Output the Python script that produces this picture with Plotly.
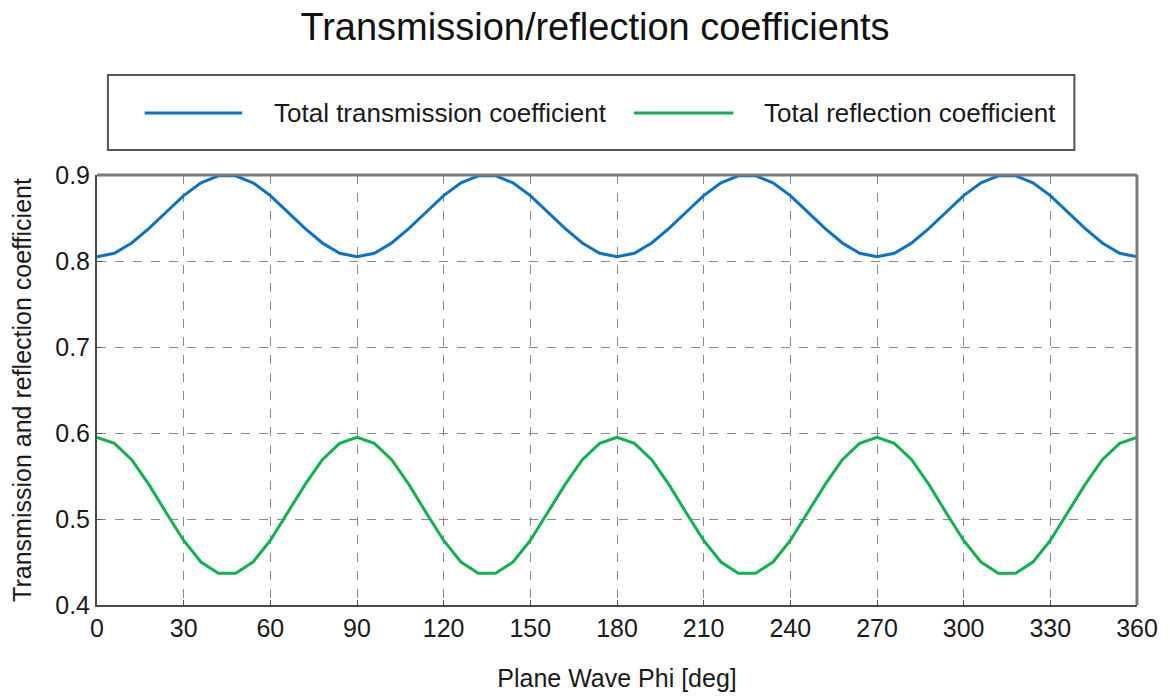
import plotly.graph_objects as go

# Plane-wave azimuth samples (deg), 6-degree step
phi = list(range(0, 361, 6))

transmission = [
    0.805, 0.809, 0.821, 0.838, 0.857, 0.876, 0.891, 0.899, 0.899, 0.891, 0.876, 0.857, 0.838, 0.821, 0.809,
    0.805, 0.809, 0.821, 0.838, 0.857, 0.876, 0.891, 0.899, 0.899, 0.891, 0.876, 0.857, 0.838, 0.821, 0.809,
    0.805, 0.809, 0.821, 0.838, 0.857, 0.876, 0.891, 0.899, 0.899, 0.891, 0.876, 0.857, 0.838, 0.821, 0.809,
    0.805, 0.809, 0.821, 0.838, 0.857, 0.876, 0.891, 0.899, 0.899, 0.891, 0.876, 0.857, 0.838, 0.821, 0.809,
    0.805,
]

reflection = [
    0.595, 0.588, 0.569, 0.540, 0.507, 0.475, 0.450, 0.437, 0.437, 0.450, 0.475, 0.507, 0.540, 0.569, 0.588,
    0.595, 0.588, 0.569, 0.540, 0.507, 0.475, 0.450, 0.437, 0.437, 0.450, 0.475, 0.507, 0.540, 0.569, 0.588,
    0.595, 0.588, 0.569, 0.540, 0.507, 0.475, 0.450, 0.437, 0.437, 0.450, 0.475, 0.507, 0.540, 0.569, 0.588,
    0.595, 0.588, 0.569, 0.540, 0.507, 0.475, 0.450, 0.437, 0.437, 0.450, 0.475, 0.507, 0.540, 0.569, 0.588,
    0.595,
]

x_ticks = list(range(0, 361, 30))
y_ticks = [0.4, 0.5, 0.6, 0.7, 0.8, 0.9]

series_names = ["Total transmission coefficient", "Total reflection coefficient"]
series_colors = ["#0b72c4", "#12b04f"]

FONT = "Liberation Sans, Arial, sans-serif"
TXT = "#1a1a1a"
W, H = 1170, 700
ML, MR, MT, MB = 97, 27, 175, 95

fig = go.Figure()
for name, ys, col in zip(series_names, [transmission, reflection], series_colors):
    fig.add_trace(go.Scatter(x=phi, y=ys, mode="lines", name=name,
                             line=dict(color=col, width=3), showlegend=False))

axis_common = dict(
    showline=True, linecolor="#4a4a4a", linewidth=2, mirror=False,
    showgrid=True, gridcolor="#8a8a8a", gridwidth=1.3, griddash="dash",
    ticks="inside", ticklen=5, tickcolor="#555555", tickwidth=1,
    tickfont=dict(family=FONT, size=25, color=TXT),
    zeroline=False,
)

fig.update_xaxes(range=[0, 360], tickvals=x_ticks,
                 title=dict(text="Plane Wave Phi [deg]", font=dict(family=FONT, size=25, color=TXT),
                            standoff=28),
                 **axis_common)
fig.update_yaxes(range=[0.4, 0.9], tickvals=y_ticks, ticktext=[f"{v:.1f}" for v in y_ticks],
                 title=dict(text="Transmission and reflection coefficient",
                            font=dict(family=FONT, size=25, color=TXT), standoff=16),
                 **axis_common)

# Pixel -> paper coordinate helpers for the legend panel and frame
def px(xp):
    return (xp - ML) / (W - ML - MR)

def py(yp):
    return (H - MB - yp) / (H - MT - MB)

shapes = [
    # lighter top/right frame edges
    dict(type="line", xref="paper", yref="paper", x0=0, x1=1, y0=1, y1=1,
         line=dict(color="#7a7a7a", width=3), layer="above"),
    dict(type="line", xref="paper", yref="paper", x0=1, x1=1, y0=0, y1=1,
         line=dict(color="#7a7a7a", width=3), layer="above"),
    dict(type="rect", xref="paper", yref="paper",
         x0=px(108), x1=px(1080), y0=py(150), y1=py(75),
         line=dict(color="#555555", width=2), fillcolor="white", layer="above"),
]
annotations = []
legend_items = [(145, 243, 273), (637, 737, 766)]
for (lx0, lx1, tx), name, col in zip(legend_items, series_names, series_colors):
    shapes.append(dict(type="line", xref="paper", yref="paper",
                       x0=px(lx0), x1=px(lx1), y0=py(113), y1=py(113),
                       line=dict(color=col, width=3), layer="above"))
    annotations.append(dict(xref="paper", yref="paper", x=px(tx), y=py(113),
                            text=name, showarrow=False, xanchor="left", yanchor="middle",
                            font=dict(family=FONT, size=26, color=TXT)))

fig.update_layout(
    width=W, height=H,
    margin=dict(l=ML, r=MR, t=MT, b=MB),
    paper_bgcolor="white", plot_bgcolor="white",
    title=dict(text="Transmission/reflection coefficients", x=595 / W, xanchor="center",
               y=1 - 27 / H, yanchor="middle",
               font=dict(family=FONT, size=38, color="#111111")),
    shapes=shapes, annotations=annotations,
    showlegend=False,
)

fig.write_html("out.html")
